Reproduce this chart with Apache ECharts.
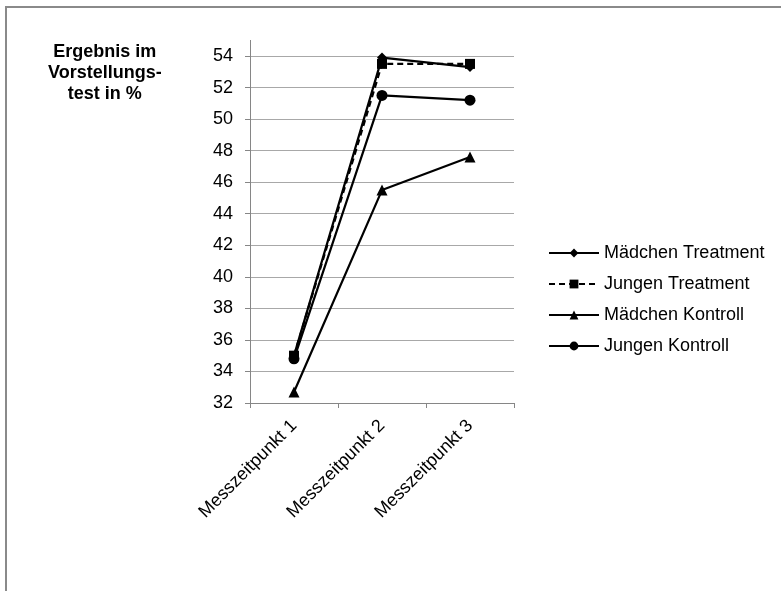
<!DOCTYPE html>
<html>
<head>
<meta charset="utf-8">
<script src="https://cdn.jsdelivr.net/npm/echarts@6/dist/echarts.min.js"></script>
<style>
html,body{margin:0;padding:0;background:#fff;}
#chart{width:781px;height:591px;}
</style>
</head>
<body>
<div id="chart"></div>
<script>
var categories = ['Messzeitpunkt 1', 'Messzeitpunkt 2', 'Messzeitpunkt 3'];
var maedchenTreatment = [35.0, 53.9, 53.3];
var jungenTreatment = [35.0, 53.5, 53.5];
var maedchenKontroll = [32.7, 45.5, 47.6];
var jungenKontroll = [34.8, 51.5, 51.2];
var yTitle = 'Ergebnis im\nVorstellungs-\ntest in %';

var chart = echarts.init(document.getElementById('chart'), null, {renderer: 'canvas'});
var font = 'Arial, "Liberation Sans", sans-serif';
function mk(name, data, symbol, size, dashed) {
  return {
    name: name, type: 'line', data: data,
    symbol: symbol, symbolSize: size, showSymbol: true,
    itemStyle: {color: '#000'},
    lineStyle: {color: '#000', width: 2.2, type: dashed ? [6, 4] : 'solid'},
    emphasis: {disabled: true},
    animation: false
  };
}
chart.setOption({
  animation: false,
  backgroundColor: '#fff',
  textStyle: {fontFamily: font},
  graphic: [
    {type: 'rect', shape: {x: 6, y: 7, width: 800, height: 620}, style: {fill: 'none', stroke: '#8a8a8a', lineWidth: 2}, silent: true},
    {type: 'line', shape: {x1: 250.5, y1: 40, x2: 250.5, y2: 57}, style: {stroke: '#868686', lineWidth: 1}, silent: true},
    {type: 'text', left: 48, top: 42, style: {text: yTitle, font: 'bold 18px ' + font, fill: '#000', textAlign: 'center', lineHeight: 21}, silent: true}
  ],
  grid: {left: 250, right: 267, top: 56, bottom: 188, containLabel: false},
  legend: {
    orient: 'vertical', left: 548, top: 243, padding: 0,
    itemWidth: 50, itemHeight: 11, itemGap: 11,
    textStyle: {fontSize: 18, color: '#000', fontFamily: font, lineHeight: 20},
    data: ['Mädchen Treatment', 'Jungen Treatment', 'Mädchen Kontroll', 'Jungen Kontroll'],
    selectedMode: false
  },
  xAxis: {
    type: 'category', data: categories, boundaryGap: true,
    axisLine: {lineStyle: {color: '#868686', width: 1}},
    axisTick: {show: true, length: 5, lineStyle: {color: '#868686'}},
    axisLabel: {rotate: 45, fontSize: 18, color: '#000', margin: 20, fontFamily: font}
  },
  yAxis: {
    type: 'value', min: 32, max: 54, interval: 2,
    axisLine: {show: true, lineStyle: {color: '#868686', width: 1}},
    axisTick: {show: true, length: 5, lineStyle: {color: '#868686'}},
    axisLabel: {fontSize: 18, color: '#000', margin: 17, fontFamily: font},
    splitLine: {show: true, lineStyle: {color: '#a8a8a8', width: 1}}
  },
  series: [
    mk('Mädchen Treatment', maedchenTreatment, 'diamond', 10, false),
    mk('Jungen Treatment', jungenTreatment, 'rect', 10, true),
    mk('Mädchen Kontroll', maedchenKontroll, 'triangle', 11, false),
    mk('Jungen Kontroll', jungenKontroll, 'circle', 11, false)
  ]
});
</script>
</body>
</html>
